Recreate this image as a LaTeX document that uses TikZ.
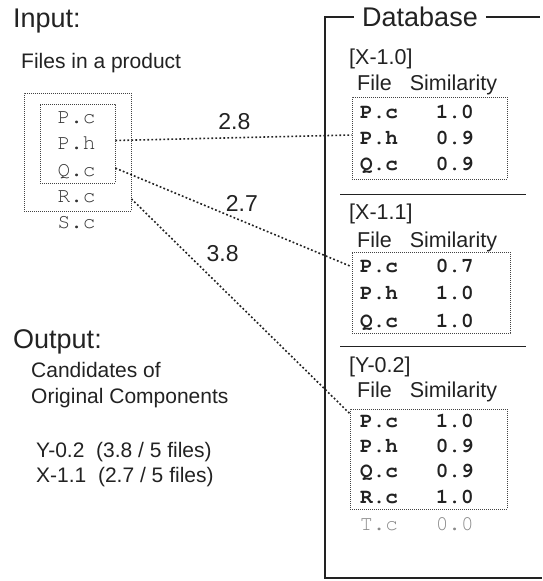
\documentclass[tikz,border=0pt]{standalone}
\usepackage{fontspec}
\setmainfont{Liberation Sans}
\setmonofont{TeX Gyre Cursor}
\definecolor{ink}{HTML}{222222}
\definecolor{filegray}{HTML}{333333}
\definecolor{unmatched}{HTML}{8A8A8A}
\tikzset{
  txt/.style={anchor=base west, inner sep=0pt, text=ink},
  head/.style={txt, font=\fontsize{27}{30}\selectfont},
  body/.style={txt, font=\fontsize{21}{24}\selectfont},
  comp/.style={txt, font=\fontsize{21.5}{24}\selectfont},
  file/.style={txt, font=\ttfamily\fontsize{21}{24}\selectfont, text=filegray},
  dbrow/.style={txt, font=\ttfamily\bfseries\fontsize{21}{24}\selectfont},
  dotbox/.style={draw=ink!85, dash pattern=on 0.8pt off 1.2pt, line width=0.8pt, inner sep=0pt},
  link/.style={draw=ink, dash pattern=on 1.8pt off 2.2pt, line width=1.6pt},
  sep/.style={draw=ink, line width=1pt},
  frame/.style={draw=ink, line width=1.3pt},
  score/.style={font=\fontsize{23}{26}\selectfont, text=ink, inner sep=1pt, anchor=south west},
}
\begin{document}
\begin{tikzpicture}[x=1pt, y=-1pt]
      \useasboundingbox (0,0) rectangle (542,581);
      %% Input side
      \node[head] (input) at (13,27) {Input:};
      \node[body] (files) at (21,68) {Files in a product};
      \node[dotbox, minimum width=107pt, minimum height=118pt] (prod) at (77.5,152) {};
      \node[dotbox, minimum width=75pt, minimum height=79pt] (core) at (77.5,143.5) {};
      \node[file] (pc) at (57.5,123) {P.c};
      \node[file] (ph) at (57.5,149.5) {P.h};
      \node[file] (qc) at (57.5,176) {Q.c};
      \node[file] (rc) at (57.5,202) {R.c};
      \node[file] (sc) at (57.5,228) {S.c};
      %% Output side
      \node[head] (output) at (13,348) {Output:};
      \node[body] (cand) at (31,377) {Candidates of};
      \node[body] (orig) at (31,403) {Original Components};
      \node[body] (resy) at (36,457) {Y-0.2\ \ (3.8 / 5 files)};
      \node[body] (resx) at (36,482) {X-1.1\ \ (2.7 / 5 files)};
      %% Database frame
      \node[font=\fontsize{27}{30}\selectfont, text=ink, inner xsep=8pt, inner ysep=0pt] (db) at (420,17) {Database};
      \draw[frame] (db.west) -- (325,17) -- (325,578) -- (542,578);
      \draw[frame] (db.east) -- (540,17);
      %% [X-1.0]
      \node[comp] (x10) at (349,64) {[X-1.0]};
      \node[comp] (x10h) at (357,90) {File\hspace{18pt}Similarity};
      \node[dotbox, minimum width=155pt, minimum height=82pt] (rx10) at (429.5,138) {};
      \node[dbrow] at (360,118) {P.c~~~1.0};
      \node[dbrow] at (360,144) {P.h~~~0.9};
      \node[dbrow] at (360,170) {Q.c~~~0.9};
      \draw[sep] (340,194) -- (526,194);
      %% [X-1.1]
      \node[comp] (x11) at (349,219) {[X-1.1]};
      \node[comp] (x11h) at (357,247) {File\hspace{18pt}Similarity};
      \node[dotbox, minimum width=158pt, minimum height=81pt] (rx11) at (431,292.5) {};
      \node[dbrow] at (360,272) {P.c~~~0.7};
      \node[dbrow] at (360,299.5) {P.h~~~1.0};
      \node[dbrow] at (360,327) {Q.c~~~1.0};
      \draw[sep] (340,346) -- (526,346);
      %% [Y-0.2]
      \node[comp] (y02) at (349,372) {[Y-0.2]};
      \node[comp] (y02h) at (357,397) {File\hspace{18pt}Similarity};
      \node[dotbox, minimum width=157pt, minimum height=100pt] (ry02) at (428.5,459) {};
      \node[dbrow] at (360,427) {P.c~~~1.0};
      \node[dbrow] at (360,452) {P.h~~~0.9};
      \node[dbrow] at (360,477) {Q.c~~~0.9};
      \node[dbrow] at (360,503) {R.c~~~1.0};
      \node[file, text=unmatched] (tc) at (360,530) {T.c~~~0.0};
      %% Matching links
      \draw[link] ([yshift=3pt]core.east) -- node[score, pos=0.42, inner sep=3pt, yshift=5pt]{2.8} ([yshift=3pt]rx10.west);
      \draw[link] (core.-33) -- node[score, pos=0.46]{2.7} (rx11.162);
      \draw[link] (prod.-41) -- node[score, pos=0.3, xshift=8pt]{3.8} (ry02.150);
    \end{tikzpicture}
\end{document}
